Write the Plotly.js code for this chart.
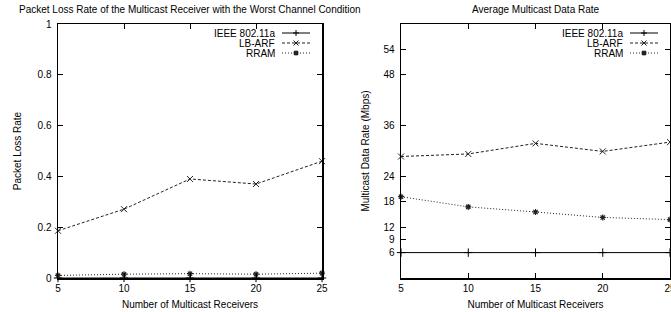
<!DOCTYPE html>
<html>
<head>
<meta charset="utf-8">
<script src="https://cdn.plot.ly/plotly-3.0.1.min.js"></script>
<style>html,body{margin:0;padding:0;background:#fff;}#chart{width:671px;height:312px;}</style>
</head>
<body>
<div id="chart"></div>
<script>
// ---- data ----
const receivers = [5, 10, 15, 20, 25];
const seriesNames = ["IEEE 802.11a", "LB-ARF", "RRAM"];
const lossIEEE = [0, 0, 0, 0, 0];
const lossLBARF = [0.186, 0.271, 0.39, 0.37, 0.46];
const lossRRAM = [0.010, 0.015, 0.017, 0.015, 0.019];
const rateIEEE = [6, 6, 6, 6, 6];
const rateLBARF = [28.7, 29.3, 31.8, 29.9, 32.1];
const rateRRAM = [19.2, 16.8, 15.6, 14.3, 13.8];
const lossTicks = [0, 0.2, 0.4, 0.6, 0.8, 1];
const rateTicks = [6, 9, 12, 18, 24, 36, 48, 54];
const leftTitle = "Packet Loss Rate of the Multicast Receiver with the Worst Channel Condition";
const rightTitle = "Average Multicast Data Rate";
const xTitle = "Number of Multicast Receivers";
const leftYTitle = "Packet Loss Rate";
const rightYTitle = "Multicast Data Rate (Mbps)";

// ---- styles ----
const FONT = "Liberation Sans, Arial, Helvetica, sans-serif";
const styles = [
  {dash: "solid", color: "#000", symbol: "cross-thin-open", mw: 1, size: 6,
   path: "M-3,0H3M0,-3V3"},
  {dash: "3px,2px", color: "#222", symbol: "x-thin-open", mw: 1, size: 6,
   path: "M-2.5,-2.5L2.5,2.5M-2.5,2.5L2.5,-2.5"},
  {dash: "1px,2px", color: "#222", symbol: "asterisk-open", mw: 1.2, size: 5,
   path: "M-2.5,0H2.5M0,-2.5V2.5M-2,-2L2,2M-2,2L2,-2"}
];

function mk(x, y, i, xa, ya) {
  const s = styles[i];
  return {
    x: x, y: y, xaxis: xa, yaxis: ya, type: "scatter", mode: "lines+markers",
    name: seriesNames[i], showlegend: false, cliponaxis: false,
    line: {color: s.color, width: 1, dash: s.dash},
    marker: {symbol: s.symbol, size: s.size, color: s.color, line: {color: s.color, width: s.mw}}
  };
}

const traces = [
  mk(receivers, lossIEEE, 0, "x", "y"),
  mk(receivers, lossLBARF, 1, "x", "y"),
  mk(receivers, lossRRAM, 2, "x", "y"),
  mk(receivers, rateIEEE, 0, "x2", "y2"),
  mk(receivers, rateLBARF, 1, "x2", "y2"),
  mk(receivers, rateRRAM, 2, "x2", "y2")
];

function xax(domain, anchor) {
  return {
    domain: domain, anchor: anchor, range: [5, 25], tickvals: receivers,
    showline: true, linecolor: "#000", linewidth: 1.5, mirror: "allticks",
    ticks: "inside", ticklen: 5, tickwidth: 1, tickcolor: "#000",
    showgrid: false, zeroline: false, ticklabeloverflow: "allow",
    tickfont: {family: FONT, size: 10, color: "#000"},
    title: {text: xTitle, font: {family: FONT, size: 10, color: "#000"}, standoff: 8}
  };
}
function yax(range, ticks, anchor, title, standoff) {
  return {
    anchor: anchor, range: range, tickvals: ticks,
    showline: true, linecolor: "#000", linewidth: 1.5, mirror: "allticks",
    ticks: "inside", ticklen: 5, tickwidth: 1, tickcolor: "#000",
    showgrid: false, zeroline: false, ticklabelstandoff: 3,
    tickfont: {family: FONT, size: 10, color: "#000"},
    title: {text: title, font: {family: FONT, size: 10, color: "#000"}, standoff: standoff}
  };
}

const shapes = [];
const annotations = [];
[["x", "y"], ["x2", "y2"]].forEach(([xa, ya]) => {
  seriesNames.forEach((nm, i) => {
    const dy = -9 - 10 * i;
    const s = styles[i];
    shapes.push({
      type: "line", xref: xa + " domain", yref: ya + " domain",
      xsizemode: "pixel", ysizemode: "pixel", xanchor: 1, yanchor: 1,
      x0: -40, x1: -12, y0: dy, y1: dy,
      line: {color: s.color, width: 1, dash: s.dash}
    });
    shapes.push({
      type: "path", xref: xa + " domain", yref: ya + " domain",
      xsizemode: "pixel", ysizemode: "pixel", xanchor: 1, yanchor: 1,
      path: s.path.replace(/([MLHV])(-?[\d.]+)(,(-?[\d.]+))?/g, (m, c, a, _, b) => {
        if (c === "H") return "H" + (parseFloat(a) - 26);
        if (c === "V") return "V" + (parseFloat(a) + dy);
        return c + (parseFloat(a) - 26) + "," + (parseFloat(b) + dy);
      }),
      line: {color: s.color, width: i === 2 ? 1.3 : 1}
    });
    annotations.push({
      text: nm, xref: xa + " domain", yref: ya + " domain", x: 1, y: 1,
      xanchor: "right", yanchor: "middle", xshift: -45, yshift: dy,
      showarrow: false, font: {family: FONT, size: 10, color: "#000"}
    });
  });
});
annotations.push({text: leftTitle, xref: "x domain", yref: "paper", x: 0.5, y: 1, yanchor: "bottom",
  yshift: 7, showarrow: false, font: {family: FONT, size: 10, color: "#000"}});
annotations.push({text: rightTitle, xref: "x2 domain", yref: "paper", x: 0.5, y: 1, yanchor: "bottom",
  yshift: 7, showarrow: false, font: {family: FONT, size: 10, color: "#000"}});

const layout = {
  width: 671, height: 312,
  margin: {l: 58, r: 1, t: 24, b: 34},
  paper_bgcolor: "#fff", plot_bgcolor: "#fff",
  showlegend: false,
  font: {family: FONT, size: 10, color: "#000"},
  xaxis: xax([0, 0.4314], "y"),
  yaxis: yax([0, 1], lossTicks, "x", leftYTitle, 14),
  xaxis2: xax([0.5605, 1], "y2"),
  yaxis2: yax([0, 60], rateTicks, "x2", rightYTitle, 12),
  shapes: shapes,
  annotations: annotations
};

Plotly.newPlot("chart", traces, layout, {displayModeBar: false, staticPlot: true});
</script>
</body>
</html>
